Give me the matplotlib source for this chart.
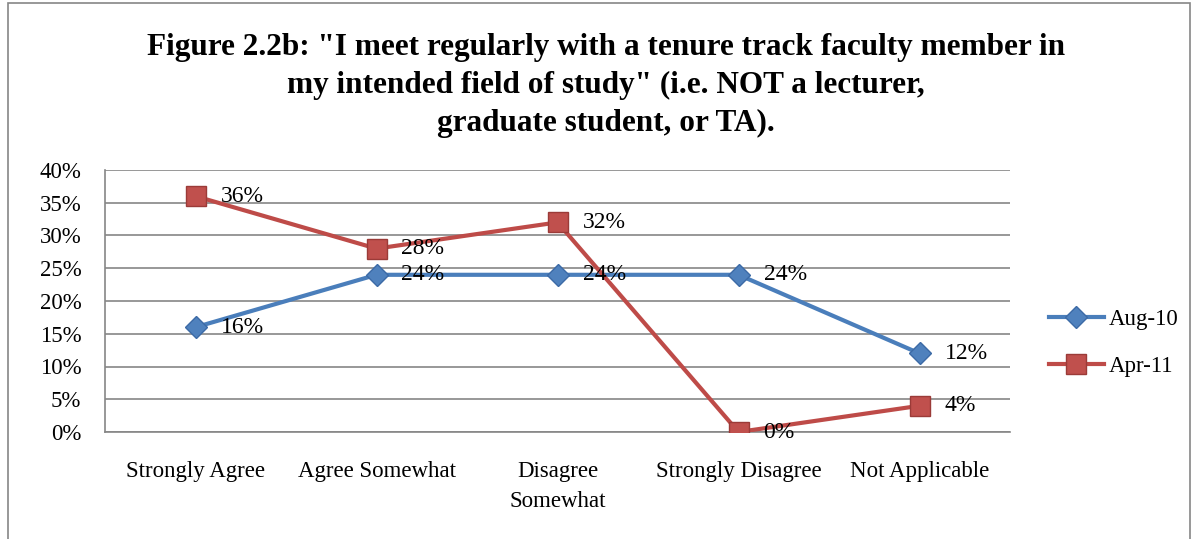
import matplotlib.pyplot as plt
from matplotlib.patches import Rectangle
from matplotlib.ticker import PercentFormatter

categories = ['Strongly Agree', 'Agree Somewhat', 'Disagree\nSomewhat',
              'Strongly Disagree', 'Not Applicable']
aug10 = [0.16, 0.24, 0.24, 0.24, 0.12]
apr11 = [0.36, 0.28, 0.32, 0.00, 0.04]
series_names = ['Aug-10', 'Apr-11']

title = ('Figure 2.2b: "I meet regularly with a tenure track faculty member in\n'
         'my intended field of study" (i.e. NOT a lecturer,\n'
         'graduate student, or TA).')

plt.rcParams['font.family'] = ['Liberation Serif', 'DejaVu Serif']

W, H = 1197, 539
fig = plt.figure(figsize=(W / 100, H / 100), dpi=100)

# outer chart border (bottom runs off the picture)
fig.patches.append(Rectangle((8 / W, -0.05), (1190 - 8) / W, 1.05 - 3 / H,
                             transform=fig.transFigure, fill=False,
                             edgecolor='#868686', lw=1.2))

ax = fig.add_axes([105 / W, 1 - 432 / H, (1010 - 105) / W, (432 - 170) / H])

x = range(len(categories))
ax.plot(x, aug10, color='#4A7EBB', lw=3, marker='D', ms=11,
        mfc='#4F81BD', mec='#3C6AA6', mew=1, label=series_names[0], zorder=3)
ax.plot(x, apr11, color='#BE4B48', lw=3, marker='s', ms=14,
        mfc='#C0504D', mec='#9B3B38', mew=1, label=series_names[1], zorder=3)

for xi, v in zip(x, aug10):
    ax.annotate(f'{v:.0%}', (xi, v), xytext=(18, 0), textcoords='offset points',
                va='center', ha='left', fontsize=17)
for xi, v in zip(x, apr11):
    ax.annotate(f'{v:.0%}', (xi, v), xytext=(18, 0), textcoords='offset points',
                va='center', ha='left', fontsize=17)

ax.set_xlim(-0.5, len(categories) - 0.5)
ax.set_ylim(0, 0.40)
ax.set_yticks([i * 0.05 for i in range(9)])
ax.yaxis.set_major_formatter(PercentFormatter(1.0, decimals=0))
ax.set_xticks(list(x))
ax.set_xticklabels(categories, fontsize=16.5, linespacing=1.55)
ax.tick_params(axis='y', labelsize=16.5, length=0, pad=17)
ax.tick_params(axis='x', length=0, pad=21)
ax.grid(axis='y', color='#868686', lw=1.2)
ax.set_axisbelow(True)
for s in ['top', 'right']:
    ax.spines[s].set_visible(False)
for s in ['left', 'bottom']:
    ax.spines[s].set_color('#868686')
    ax.spines[s].set_linewidth(1.2)

fig.text(606 / W, 1 - 33 / H, title, ha='center', va='top', fontsize=22.5,
         fontweight='bold', linespacing=1.4)

leg = ax.legend(loc='center left', bbox_to_anchor=(1.02, 0.34), frameon=False,
                fontsize=16.5, handlelength=2.4, labelspacing=1.1,
                handletextpad=0.2)

fig.savefig('out.png', dpi=100)
